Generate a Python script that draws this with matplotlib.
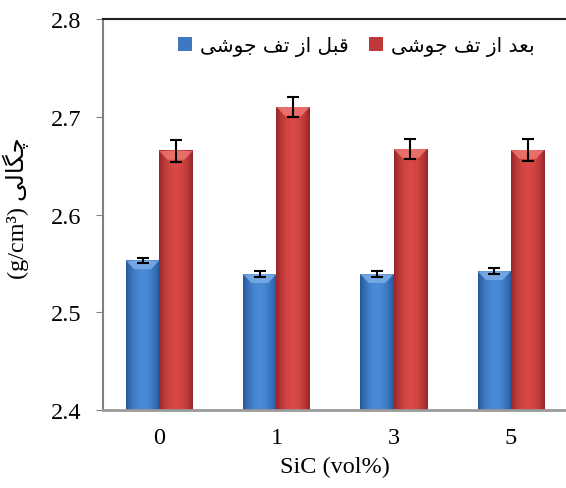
import numpy as np
import matplotlib
matplotlib.use("Agg")
import matplotlib.pyplot as plt
from matplotlib.patches import Polygon

plt.rcParams['font.family'] = ['Liberation Serif', 'DejaVu Sans']

# داده ها
sic_labels = ['0', '1', '3', '5']
before_vals = [2.553, 2.539, 2.539, 2.542]
before_err = [0.003, 0.003, 0.003, 0.003]
after_vals = [2.665, 2.710, 2.667, 2.666]
after_err = [0.011, 0.010, 0.010, 0.011]

# متن فارسی با حروف شکل یافته (ترتیب دیداری چپ به راست)
label_before = '\uFEF0\uFEB7\uFEEE\uFE9F \uFED2\uFE97 \uFEAF\uFE8D \uFEDE\uFE92\uFED7'
label_after = '\uFEF0\uFEB7\uFEEE\uFE9F \uFED2\uFE97 \uFEAF\uFE8D \uFEAA\uFECC\uFE91'
label_density = '\uFEF0\uFEDF\uFE8E\uFB95\uFB7C'


def gradient_bar(ax, bar, dark, light, roof):
    """Rellena una barra con degradado horizontal y un bisel arriba."""
    x0, y0 = bar.get_x(), bar.get_y()
    w, h = bar.get_width(), bar.get_height()
    t = np.linspace(0, 1, 80)
    prof = 1 - np.abs(2 * t - 1) ** 2.0
    dark = np.array(matplotlib.colors.to_rgb(dark))
    light = np.array(matplotlib.colors.to_rgb(light))
    cols = dark[None, :] + (light - dark)[None, :] * prof[:, None]
    ax.imshow(cols[None, :, :], extent=(x0, x0 + w, y0, y0 + h),
              aspect='auto', zorder=2, interpolation='bilinear')
    top = y0 + h
    d = 0.009
    ax.add_patch(Polygon([(x0, top), (x0 + w, top), (x0 + w * 0.75, top - d),
                          (x0 + w * 0.25, top - d)], closed=True,
                         facecolor=roof, edgecolor='none', alpha=0.8, zorder=3))


fig = plt.figure(figsize=(5.66, 4.89), dpi=100)
ax = fig.add_axes([0.182, 0.1595, 0.818, 0.7995])

x = np.arange(len(sic_labels))
w = 0.285
b1 = ax.bar(x - w / 2, np.array(before_vals) - 2.4, w, bottom=2.4,
            color='#3f78c0', label=label_before, zorder=1)
b2 = ax.bar(x + w / 2, np.array(after_vals) - 2.4, w, bottom=2.4,
            color='#c0393a', label=label_after, zorder=1)

for bar in b1:
    gradient_bar(ax, bar, '#24569a', '#4a8ad6', '#7fb0ea')
for bar in b2:
    gradient_bar(ax, bar, '#96262a', '#d84844', '#f07a74')

ax.errorbar(x - w / 2, before_vals, yerr=before_err, fmt='none', ecolor='black',
            elinewidth=1.5, capsize=4.5, capthick=1.5, zorder=5)
ax.errorbar(x + w / 2, after_vals, yerr=after_err, fmt='none', ecolor='black',
            elinewidth=1.5, capsize=4.5, capthick=1.5, zorder=5)

ax.set_xlim(-0.48, 3.47)
ax.set_ylim(2.4, 2.8)
ax.set_yticks([2.4, 2.5, 2.6, 2.7, 2.8])
ax.set_xticks(x)
ax.set_xticklabels(sic_labels)

ax.spines['right'].set_visible(False)
ax.spines['left'].set_color('#808080')
ax.spines['left'].set_linewidth(1.5)
ax.spines['bottom'].set_color('#9a9a9a')
ax.spines['bottom'].set_linewidth(2)
ax.spines['top'].set_color('#202020')
ax.spines['top'].set_linewidth(1.5)

ax.tick_params(axis='y', direction='out', length=5, color='#808080',
               labelsize=17.5, pad=10.5)
ax.tick_params(axis='x', length=0, labelsize=17.5, pad=12)

ax.set_xlabel('SiC (vol%)', fontsize=17.5, labelpad=6)
ax.set_ylabel('(g/cm\u00b3) ' + label_density, fontsize=17.5)
ax.yaxis.set_label_coords(-0.16, 0.519)

leg = ax.legend(loc='center left', bbox_to_anchor=(0.162, 0.931), ncol=2,
                frameon=False, prop={'family': 'DejaVu Sans', 'size': 14.5},
                handlelength=0.7, handleheight=0.7,
                columnspacing=1.0, handletextpad=0.4, borderpad=0,
                borderaxespad=0)

fig.savefig('out.png', dpi=100)
